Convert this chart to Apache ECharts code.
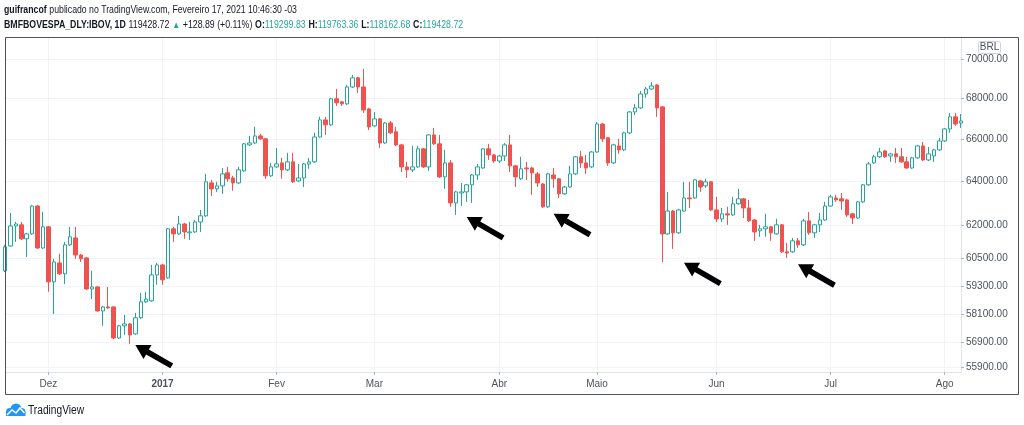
<!DOCTYPE html>
<html>
<head>
<meta charset="utf-8">
<script src="https://cdn.jsdelivr.net/npm/echarts@6/dist/echarts.min.js"></script>
<style>
html, body { margin: 0; padding: 0; background: #fff; }
#main { width: 1024px; height: 425px; }
</style>
</head>
<body>
<div id="main"></div>
<script>
// pregões visíveis, mês a mês (nov/2016 - ago/2017)
var months = ['2016-11', '2016-12', '2017-01', '2017-02', '2017-03', '2017-04', '2017-05', '2017-06', '2017-07', '2017-08'];
var monthLabels = ['Nov', 'Dez', '2017', 'Fev', 'Mar', 'Abr', 'Maio', 'Jun', 'Jul', 'Ago'];
var monthDays = [
    [21, 22, 23, 24, 25, 28, 29, 30],
    [1, 2, 5, 6, 7, 8, 9, 12, 13, 14, 15, 16, 19, 20, 21, 22, 23, 26, 27, 28, 29],
    [2, 3, 4, 5, 6, 9, 10, 11, 12, 13, 16, 17, 18, 19, 20, 23, 24, 26, 27, 30, 31],
    [1, 2, 3, 6, 7, 8, 9, 10, 13, 14, 15, 16, 17, 20, 21, 22, 23, 24],
    [1, 2, 3, 6, 7, 8, 9, 10, 13, 14, 15, 16, 17, 20, 21, 22, 23, 24, 27, 28, 29, 30, 31],
    [3, 4, 5, 6, 7, 10, 11, 12, 13, 17, 18, 19, 20, 24, 25, 26, 27, 28],
    [2, 3, 4, 5, 8, 9, 10, 11, 12, 15, 16, 17, 18, 19, 22, 23, 24, 25, 26, 29, 30, 31],
    [1, 2, 5, 6, 7, 8, 9, 12, 13, 14, 16, 19, 20, 21, 22, 23, 26, 27, 28, 29, 30],
    [3, 4, 5, 6, 7, 10, 11, 12, 13, 14, 17, 18, 19, 20, 21, 24, 25, 26, 27, 28, 31],
    [1, 2, 3, 4]
];

var openP = [59960, 61060, 61960, 62010, 61380, 61600, 62870, 60970, 61920, 59480,
    60310, 59830, 61110, 61420, 60660, 60530, 59170, 59260, 58230, 58400,
    58400, 57090, 57600, 57680, 57260, 57940, 58620, 58660, 59780, 60220,
    59650, 61830, 61600, 62050, 61650, 61690, 62140, 62420, 63940, 63660,
    63800, 64410, 64170, 63940, 64500, 65740, 65830, 66170, 66030, 64270,
    64690, 64880, 64550, 64930, 64030, 64170, 64830, 64930, 66120, 66950,
    66710, 67990, 67840, 67740, 68580, 69040, 68580, 67490, 66660, 67000,
    65830, 66800, 66370, 65740, 64690, 64550, 64690, 65550, 64690, 66220,
    65790, 64220, 64880, 63010, 63470, 63520, 63850, 64310, 64640, 65550,
    65260, 64970, 65210, 65740, 64740, 64130, 64640, 64640, 64360, 63890,
    62830, 64310, 64130, 63430, 63750, 64360, 65170, 64880, 64690, 65400,
    66750, 66080, 64880, 65690, 65500, 66320, 67340, 67540, 68230, 68480,
    68680, 67590, 61600, 62640, 61650, 62640, 63240, 63240, 64030, 63800,
    63990, 62690, 62280, 62510, 62460, 62970, 63200, 62780, 62230, 61740,
    61830, 61920, 61600, 62010, 60800, 60800, 61290, 61110, 62190, 61650,
    62010, 62230, 62870, 63240, 63200, 63150, 62510, 62320, 63060, 63850,
    64880, 65170, 65450, 65210, 65310, 65170, 64930, 64640, 65120, 65690,
    65020, 65210, 65500, 65930, 66510, 67100, 66800];
var highP = [61110, 62550, 62140, 62140, 61650, 62920, 62920, 62600, 61960, 60490,
    60710, 61240, 61920, 61920, 60710, 60570, 59960, 59300, 58440, 59260,
    58440, 57640, 58060, 57720, 58150, 59000, 59050, 60220, 60310, 60270,
    61870, 61920, 62420, 62100, 62140, 62230, 62690, 64360, 64080, 63990,
    64640, 64690, 64270, 64690, 65830, 66170, 66610, 66270, 66080, 64880,
    65590, 65120, 65360, 65360, 64830, 64880, 65120, 66320, 67100, 67100,
    68040, 68480, 67890, 68680, 69190, 69090, 69490, 67540, 67340, 67050,
    66850, 66900, 66610, 65790, 64930, 65690, 65690, 65590, 66270, 66560,
    66220, 65500, 65020, 63570, 63940, 63890, 64360, 64830, 65590, 65790,
    65310, 65260, 65830, 66220, 64790, 65170, 64930, 64690, 64450, 63940,
    64410, 64640, 64170, 63800, 64740, 65210, 65450, 65260, 65450, 66850,
    66800, 66120, 65790, 66030, 66370, 67390, 67740, 68380, 68580, 68830,
    68730, 67640, 63520, 62690, 62740, 63990, 63990, 64130, 64080, 64130,
    64030, 63290, 62780, 62830, 63290, 63660, 63240, 63150, 62280, 62010,
    62510, 61960, 62280, 62050, 61200, 61420, 61420, 62280, 62600, 62050,
    62550, 63060, 63380, 63380, 63470, 63200, 62550, 63100, 63890, 64930,
    65260, 65590, 65500, 65360, 65590, 65590, 65170, 65170, 65740, 65880,
    65640, 65550, 66080, 66560, 67290, 67290, 67240];
var lowP = [59910, 61020, 61240, 61330, 60570, 61560, 60930, 60930, 59050, 58100,
    59780, 59390, 61060, 60490, 60350, 59130, 58740, 58190, 57600, 58320,
    57050, 57050, 57220, 56850, 57220, 57890, 58570, 58620, 59350, 59350,
    59610, 61240, 61560, 61380, 61330, 61650, 61690, 62370, 63330, 63520,
    63430, 63990, 63570, 63890, 64450, 65690, 65790, 65980, 64130, 64220,
    64640, 64130, 64500, 63940, 63990, 63750, 64600, 64880, 66080, 66220,
    66660, 67640, 67640, 67690, 68530, 68280, 67290, 66460, 66610, 65590,
    65790, 66270, 65690, 64450, 64170, 64450, 64640, 64640, 64500, 65740,
    64170, 63660, 62830, 62460, 62870, 63060, 63010, 64080, 64600, 65020,
    64880, 64880, 64970, 64450, 63750, 64080, 64080, 63380, 63750, 62780,
    62780, 63710, 63240, 63380, 63710, 64310, 64640, 64360, 64640, 65360,
    65880, 64740, 64830, 65310, 65450, 66270, 67190, 67490, 68040, 68430,
    67100, 60350, 61560, 60930, 61600, 62600, 62780, 63200, 63520, 63710,
    62640, 62140, 62140, 62010, 62420, 62920, 62320, 62140, 61290, 61470,
    61470, 61290, 61560, 60750, 60530, 60750, 60970, 61060, 61560, 61420,
    61690, 62190, 62830, 63060, 62690, 62370, 62050, 62280, 63010, 63800,
    64830, 65120, 65120, 64930, 64880, 64880, 64600, 64600, 65070, 64970,
    64970, 64930, 65450, 65880, 66320, 66660, 66560];
var closeP = [61020, 61960, 62050, 61380, 61600, 62870, 60970, 61920, 59480, 60350,
    59830, 61110, 61470, 60660, 60490, 59170, 59260, 58230, 58400, 58360,
    57090, 57600, 57680, 57220, 57940, 58620, 58740, 59780, 60220, 59570,
    61830, 61600, 62050, 61690, 61690, 62140, 62420, 63990, 63660, 63800,
    64360, 64130, 63940, 64550, 65790, 65830, 66170, 66030, 64270, 64690,
    64830, 64550, 64930, 63990, 64170, 64830, 64930, 66120, 66950, 66710,
    67990, 67790, 67740, 68580, 69040, 68580, 67440, 66610, 67000, 65830,
    66800, 66320, 65740, 64690, 64550, 64690, 65550, 64690, 66220, 65790,
    64220, 64880, 63010, 63520, 63520, 63850, 64310, 64690, 65550, 65260,
    64970, 65210, 65740, 64740, 64220, 64600, 64600, 64410, 63940, 62830,
    64360, 64130, 63430, 63750, 64360, 65170, 64880, 64640, 65400, 66750,
    66030, 64880, 65740, 65500, 66320, 67340, 67540, 68230, 68480, 68630,
    67540, 61600, 62640, 61650, 62690, 63240, 63200, 64080, 63750, 63990,
    62690, 62280, 62510, 62460, 62970, 63200, 62780, 62190, 61690, 61830,
    61920, 61650, 62010, 60800, 60750, 61290, 61110, 62190, 61650, 62010,
    62230, 62870, 63290, 63150, 63100, 62460, 62320, 63060, 63850, 64830,
    65170, 65400, 65170, 65310, 65170, 64930, 64640, 65120, 65690, 65020,
    65310, 65500, 65930, 66510, 67100, 66750, 66897.98];

var priceTicks = [55900, 56900, 58100, 59300, 60500, 62000, 64000, 66000, 68000, 70000];

// setas desenhadas no grafico (ponta da seta: pregão, preço)
var arrowAt = ['2016-12-23', '2017-03-24', '2017-04-18', '2017-05-24', '2017-06-23'];
var arrowPrice = [56800, 62370, 62510, 60320, 60250];

var dates = [];
var monthStart = {};
months.forEach(function(m, i) {
    monthDays[i].forEach(function(d, j) {
        var s = m + '-' + (d < 10 ? '0' + d : d);
        if (j == 0 && i > 0) monthStart[s] = monthLabels[i];
        dates.push(s);
    });
});
var candles = dates.map(function(d, i) {
    return [openP[i], closeP[i], lowP[i], highP[i]];
});
var lastClose = closeP[closeP.length - 1];

var FONT = "'Liberation Sans', Arial, sans-serif";
var isMonthStart = function(i, v) { return !!monthStart[v]; };

var myChart = echarts.init(document.getElementById('main'));

var option = {
    animation: false,
    textStyle: { fontFamily: FONT },
    grid: {
        left: 5,
        right: 63,
        top: 37,
        bottom: 53
    },
    xAxis: {
        type: 'category',
        data: dates,
        boundaryGap: false,
        axisLine: { lineStyle: { color: '#e0e3eb' } },
        axisTick: { show: true, interval: isMonthStart, length: 3, lineStyle: { color: '#b2b5be' } },
        axisLabel: {
            interval: isMonthStart,
            margin: 7,
            color: '#4c525e',
            fontSize: 10,
            formatter: function(v) {
                var t = monthStart[v] || '';
                return t == '2017' ? '{y|2017}' : t;
            },
            rich: { y: { fontFamily: FONT, fontSize: 10, fontWeight: 'bold', color: '#4c525e' } }
        },
        splitLine: { show: true, interval: isMonthStart, lineStyle: { color: '#f0f3fa' } }
    },
    yAxis: {
        type: 'log',
        logBase: 10,
        position: 'right',
        min: 55690,
        max: 71130,
        axisLine: { show: true, lineStyle: { color: '#e0e3eb' } },
        axisTick: { show: true, customValues: priceTicks, length: 3, lineStyle: { color: '#b2b5be' } },
        axisLabel: {
            customValues: priceTicks,
            margin: 5,
            color: '#4c525e',
            fontSize: 10,
            formatter: function(v) { return Number(v).toFixed(2); }
        },
        splitLine: { show: true, lineStyle: { color: '#f0f3fa' } }
    },
    series: [{
        type: 'candlestick',
        data: candles,
        barWidth: 4,
        clip: true,
        itemStyle: {
            color: '#ffffff',
            color0: '#ef5350',
            borderColor: '#26a69a',
            borderColor0: '#ef5350',
            borderWidth: 1
        },
        markLine: {
            silent: true,
            symbol: 'none',
            animation: false,
            lineStyle: { opacity: 0 },
            label: {
                position: 'end',
                distance: 1,
                formatter: lastClose.toFixed(2),
                backgroundColor: '#26a69a',
                color: '#ffffff',
                fontSize: 10.5,
                fontWeight: 'bold',
                padding: [2, 4]
            },
            data: [{ yAxis: lastClose }]
        }
    }]
};

myChart.setOption(option);

// cabeçalho, moldura, BRL, logo e setas
var headRich = {
    b: { fontFamily: FONT, fontSize: 10.5, fontWeight: 'bold', fill: '#131722' },
    n: { fontFamily: FONT, fontSize: 10.5, fill: '#131722' },
    g: { fontFamily: FONT, fontSize: 10.5, fill: '#26a69a' },
    t: { fontFamily: FONT, fontSize: 9.5, fill: '#26a69a' }
};
var graphics = [{
    type: 'text',
    x: 4,
    y: 10,
    scaleX: 0.83,
    style: {
        text: '{b|guifrancof} {n|publicado no TradingView.com, Fevereiro 17, 2021 10:46:30 -03}',
        rich: headRich,
        verticalAlign: 'middle'
    }
}, {
    type: 'text',
    x: 4,
    y: 25,
    scaleX: 0.835,
    style: {
        text: '{b|BMFBOVESPA_DLY:IBOV, 1D} {n|119428.72} {t|▲} {n|+128.89 (+0.11%)} ' +
            '{b|O:}{g|119299.83} {b|H:}{g|119763.36} {b|L:}{g|118162.68} {b|C:}{g|119428.72}',
        rich: headRich,
        verticalAlign: 'middle'
    }
}, {
    type: 'rect',
    shape: { x: 5.5, y: 37.5, width: 1013, height: 357 },
    style: { fill: 'none', stroke: '#50535e', lineWidth: 1 },
    z: 10
}, {
    type: 'rect',
    shape: { x: 978.5, y: 41.5, width: 22, height: 12, r: 2 },
    style: { fill: '#ffffff', stroke: '#d1d4dc', lineWidth: 1 },
    z: 10
}, {
    type: 'text',
    x: 989.5,
    y: 47.5,
    style: { text: 'BRL', fill: '#4c525e', font: '10px ' + FONT, align: 'center', verticalAlign: 'middle' },
    z: 11
}, {
    type: 'group',
    children: [
        { type: 'circle', shape: { cx: 10, cy: 412, r: 4 }, style: { fill: '#2196f3' } },
        { type: 'circle', shape: { cx: 16, cy: 409, r: 5.5 }, style: { fill: '#2196f3' } },
        { type: 'circle', shape: { cx: 21.5, cy: 412, r: 4 }, style: { fill: '#2196f3' } },
        { type: 'rect', shape: { x: 6, y: 412, width: 19.5, height: 4 }, style: { fill: '#2196f3' } },
        { type: 'polyline', shape: { points: [[7, 415], [12, 410], [16, 413], [20, 408], [24.5, 413]] },
            style: { fill: 'none', stroke: '#ffffff', lineWidth: 1.5 } },
        { type: 'text', x: 28, y: 411, scaleX: 0.85,
            style: { text: 'TradingView', fill: '#131722', font: '12px ' + FONT, verticalAlign: 'middle' } }
    ]
}];

var ux = 0.8668, uy = 0.4987;
arrowAt.forEach(function(d, i) {
    var t = myChart.convertToPixel({ gridIndex: 0 }, [d, arrowPrice[i]]);
    var p = function(a, w) {
        return [t[0] + a * ux - w * uy, t[1] + a * uy + w * ux];
    };
    graphics.push({
        type: 'polygon',
        shape: { points: [t, p(14, 8), p(14, 2.8), p(42, 2.8), p(42, -2.8), p(14, -2.8), p(14, -8)] },
        style: { fill: '#000000' },
        z: 20
    });
});

myChart.setOption({ graphic: graphics });
</script>
</body>
</html>
